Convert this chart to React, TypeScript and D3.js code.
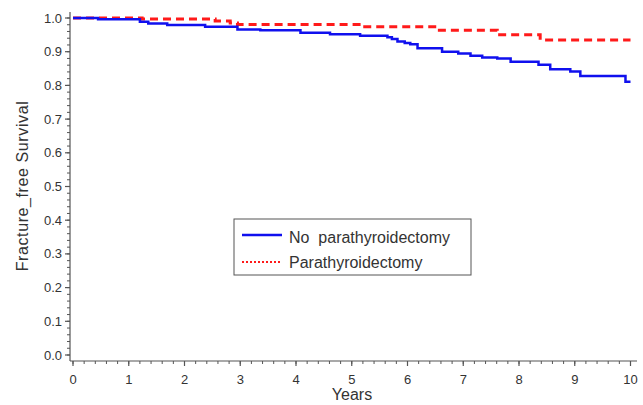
import React from "react";
import * as d3 from "d3";

const xTicks = [0, 1, 2, 3, 4, 5, 6, 7, 8, 9, 10];
const yTicks = [0, 0.1, 0.2, 0.3, 0.4, 0.5, 0.6, 0.7, 0.8, 0.9, 1.0];

const noParaTimes = [0, 0.45, 1.2, 1.35, 1.69, 2.37, 2.95, 3.36, 4.08, 4.61, 5.15, 5.64, 5.72, 5.82, 5.95, 6.05, 6.18, 6.62, 6.91, 7.13, 7.34, 7.61, 7.85, 8.35, 8.56, 8.92, 9.1, 9.91, 10.0];
const noParaSurv = [1.0, 0.996, 0.989, 0.984, 0.979, 0.974, 0.966, 0.964, 0.956, 0.952, 0.947, 0.943, 0.938, 0.93, 0.926, 0.922, 0.91, 0.9, 0.895, 0.888, 0.883, 0.88, 0.87, 0.861, 0.848, 0.841, 0.828, 0.811, 0.811];

const paraTimes = [0, 1.24, 2.55, 2.82, 2.95, 5.19, 6.53, 7.61, 8.38, 10.0];
const paraSurv = [1.0, 0.997, 0.991, 0.985, 0.981, 0.974, 0.964, 0.95, 0.935, 0.935];

const legendLabels = ["No  parathyroidectomy", "Parathyroidectomy"];

export default function App() {
  const W = 643, H = 405;
  const x = d3.scaleLinear().domain([0, 10]).range([73, 630.5]);
  const y = d3.scaleLinear().domain([0, 1]).range([355, 18]);
  const axisX = 70, axisY = 361;
  const font = "'Liberation Sans', Arial, sans-serif";
  const axisColor = "#555";
  const textColor = "#333";

  const line = d3
    .line<[number, number]>()
    .x((d) => x(d[0]))
    .y((d) => y(d[1]))
    .curve(d3.curveStepAfter);

  const blue = line(noParaTimes.map((t, i) => [t, noParaSurv[i]]) as [number, number][]) || "";
  const red = line(paraTimes.map((t, i) => [t, paraSurv[i]]) as [number, number][]) || "";

  const xMinor = d3.range(0, 10.001, 0.2);
  const yMinor = d3.range(0, 1.0001, 0.02);

  return (
    <svg width={W} height={H} style={{ position: "absolute", left: 0, top: 0, background: "#fff" }}>
      {/* axes */}
      <line x1={axisX} x2={axisX} y1={12} y2={axisY} stroke={axisColor} strokeWidth={1.2} />
      <line x1={axisX} x2={637} y1={axisY} y2={axisY} stroke={axisColor} strokeWidth={1.2} />
      {yMinor.map((v, i) => (
        <line key={"ym" + i} x1={axisX - 3} x2={axisX} y1={y(v)} y2={y(v)} stroke={axisColor} strokeWidth={1} />
      ))}
      {yTicks.map((v) => (
        <g key={"y" + v}>
          <line x1={axisX - 5} x2={axisX} y1={y(v)} y2={y(v)} stroke={axisColor} strokeWidth={1.2} />
          <text x={62} y={y(v) + 4.5} textAnchor="end" fontSize={13} fontFamily={font} fill={textColor}>
            {v.toFixed(1)}
          </text>
        </g>
      ))}
      {xMinor.map((v, i) => (
        <line key={"xm" + i} x1={x(v)} x2={x(v)} y1={axisY} y2={axisY + 3} stroke={axisColor} strokeWidth={1} />
      ))}
      {xTicks.map((v) => (
        <g key={"x" + v}>
          <line x1={x(v)} x2={x(v)} y1={axisY} y2={axisY + 5} stroke={axisColor} strokeWidth={1.2} />
          <text x={x(v)} y={384} textAnchor="middle" fontSize={13} fontFamily={font} fill={textColor}>
            {v}
          </text>
        </g>
      ))}
      <text x={352} y={400} textAnchor="middle" fontSize={16} fontFamily={font} fill={textColor}>
        Years
      </text>
      <text
        transform={`translate(28,186) rotate(-90)`}
        textAnchor="middle"
        fontSize={16}
        fontFamily={font}
        fill={textColor}
        letterSpacing={0.6}
      >
        Fracture_free Survival
      </text>

      {/* curves */}
      <path d={red} fill="none" stroke="#ff1a1a" strokeWidth={3} strokeDasharray="8,5" />
      <path d={blue} fill="none" stroke="#1010ee" strokeWidth={2.5} />

      {/* legend */}
      <rect x={234} y={219} width={237} height={56} fill="#fff" stroke="#555" strokeWidth={1} />
      <line x1={242} x2={282} y1={235} y2={235} stroke="#1010ee" strokeWidth={2.5} />
      <text x={289} y={243} fontSize={16} fontFamily={font} fill={textColor} style={{ whiteSpace: "pre" }}>
        {legendLabels[0]}
      </text>
      <line x1={242} x2={282} y1={262} y2={262} stroke="#ff1a1a" strokeWidth={2} strokeDasharray="2,2" />
      <text x={289} y={268} fontSize={16} fontFamily={font} fill={textColor}>
        {legendLabels[1]}
      </text>
    </svg>
  );
}
